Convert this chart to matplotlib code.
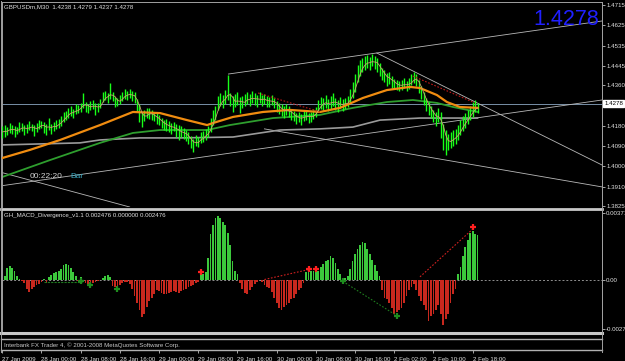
import numpy as np
import pandas as pd
import matplotlib
matplotlib.use("Agg")
import matplotlib.pyplot as plt
from matplotlib.lines import Line2D

# ---- data (GBPUSDm M30, one value per bar) ----
high = [1.4179,1.4183,1.4175,1.4192,1.4183,1.4179,1.4175,1.4197,1.4192,1.4183,
        1.4188,1.4201,1.4188,1.4183,1.4192,1.4205,1.4201,1.4197,1.4188,1.4214,
        1.4188,1.4197,1.4205,1.4210,1.4223,1.4241,1.4245,1.4259,1.4267,1.4254,
        1.4276,1.4272,1.4281,1.4325,1.4285,1.4276,1.4290,1.4294,1.4281,1.4281,
        1.4298,1.4329,1.4334,1.4325,1.4369,1.4329,1.4307,1.4303,1.4316,1.4329,
        1.4343,1.4334,1.4343,1.4334,1.4329,1.4298,1.4276,1.4241,1.4250,1.4259,
        1.4259,1.4250,1.4241,1.4236,1.4228,1.4214,1.4205,1.4210,1.4201,1.4192,
        1.4197,1.4188,1.4183,1.4179,1.4170,1.4161,1.4152,1.4135,1.4121,1.4139,
        1.4130,1.4152,1.4157,1.4166,1.4179,1.4214,1.4250,1.4267,1.4312,1.4325,
        1.4316,1.4338,1.4405,1.4325,1.4312,1.4321,1.4329,1.4307,1.4312,1.4321,
        1.4329,1.4321,1.4334,1.4325,1.4316,1.4329,1.4316,1.4321,1.4312,1.4307,
        1.4316,1.4303,1.4290,1.4281,1.4276,1.4267,1.4276,1.4267,1.4254,1.4245,
        1.4236,1.4241,1.4232,1.4245,1.4250,1.4236,1.4241,1.4254,1.4263,1.4294,
        1.4307,1.4303,1.4316,1.4298,1.4312,1.4325,1.4303,1.4294,1.4307,1.4298,
        1.4303,1.4312,1.4343,1.4374,1.4409,1.4449,1.4471,1.4480,1.4489,1.4493,
        1.4484,1.4498,1.4489,1.4480,1.4458,1.4436,1.4427,1.4414,1.4418,1.4400,
        1.4387,1.4383,1.4378,1.4383,1.4391,1.4378,1.4391,1.4409,1.4418,1.4409,
        1.4383,1.4356,1.4329,1.4303,1.4285,1.4267,1.4250,1.4241,1.4259,1.4241,
        1.4188,1.4161,1.4143,1.4152,1.4161,1.4166,1.4183,1.4205,1.4223,1.4236,
        1.4250,1.4267,1.4285,1.4294,1.4279]
low = [1.4126,1.4131,1.4139,1.4148,1.4143,1.4130,1.4143,1.4152,1.4157,1.4139,
       1.4148,1.4161,1.4157,1.4135,1.4152,1.4166,1.4170,1.4148,1.4139,1.4161,
       1.4143,1.4157,1.4166,1.4170,1.4179,1.4197,1.4205,1.4214,1.4223,1.4214,
       1.4232,1.4236,1.4241,1.4259,1.4241,1.4236,1.4250,1.4254,1.4228,1.4241,
       1.4259,1.4285,1.4294,1.4281,1.4298,1.4290,1.4263,1.4267,1.4276,1.4290,
       1.4298,1.4294,1.4303,1.4290,1.4281,1.4241,1.4197,1.4174,1.4201,1.4214,
       1.4210,1.4205,1.4201,1.4188,1.4183,1.4170,1.4161,1.4157,1.4152,1.4143,
       1.4157,1.4130,1.4117,1.4130,1.4121,1.4112,1.4099,1.4081,1.4064,1.4090,
       1.4086,1.4104,1.4108,1.4117,1.4130,1.4152,1.4183,1.4205,1.4250,1.4267,
       1.4259,1.4276,1.4294,1.4267,1.4241,1.4263,1.4272,1.4236,1.4259,1.4267,
       1.4276,1.4267,1.4281,1.4272,1.4263,1.4281,1.4267,1.4276,1.4263,1.4263,
       1.4272,1.4259,1.4241,1.4232,1.4223,1.4214,1.4228,1.4219,1.4205,1.4201,
       1.4188,1.4197,1.4183,1.4201,1.4205,1.4192,1.4197,1.4210,1.4219,1.4245,
       1.4254,1.4250,1.4259,1.4245,1.4254,1.4267,1.4250,1.4241,1.4259,1.4245,
       1.4254,1.4263,1.4281,1.4303,1.4329,1.4374,1.4400,1.4418,1.4427,1.4436,
       1.4427,1.4445,1.4431,1.4418,1.4400,1.4383,1.4374,1.4356,1.4365,1.4347,
       1.4343,1.4338,1.4334,1.4338,1.4347,1.4334,1.4343,1.4360,1.4369,1.4356,
       1.4325,1.4298,1.4272,1.4245,1.4228,1.4214,1.4197,1.4179,1.4197,1.4126,
       1.4073,1.4051,1.4073,1.4081,1.4090,1.4099,1.4117,1.4139,1.4157,1.4170,
       1.4188,1.4205,1.4219,1.4241,1.4237]
macd = [-0.0001,0.00018,0.00064,0.00076,0.00064,0.00045,0.00018,0.00005,-0.0001,-0.0002,
        -0.0005,-0.00067,-0.00055,-0.0004,-0.0003,-0.00025,-0.00012,0.00004,-0.00018,0.00015,
        0.00025,0.00036,0.0004,0.00045,0.0006,0.0008,0.00085,0.00082,0.00065,0.0004,
        0.00018,-0.0001,0.00015,-0.00008,-0.0002,-0.00025,-0.00022,-0.00018,-0.00015,-0.0001,
        -0.00005,0.0001,0.00022,0.00027,0.00015,-0.00036,-0.00042,-0.00045,-0.0003,-0.0002,
        -0.00015,-0.00014,-0.00027,-0.0005,-0.0009,-0.0013,-0.0017,-0.0021,-0.0019,-0.0015,
        -0.0012,-0.001,-0.00082,-0.0006,-0.00062,-0.00073,-0.0008,-0.00082,-0.00075,-0.0007,
        -0.00064,-0.0007,-0.00073,-0.00066,-0.00058,-0.0005,-0.0004,-0.00036,-0.0003,-0.0002,
        -0.00012,0.00025,0.0003,0.0004,0.0012,0.0025,0.003,0.0034,0.0035,0.0034,
        0.0032,0.003,0.0026,0.0019,0.001,0.0005,0.0003,-0.0002,-0.0005,-0.00075,
        -0.00078,-0.0006,-0.0004,-0.00027,-0.00013,-0.00005,-0.00015,-0.0003,-0.0004,-0.00045,
        -0.0007,-0.001,-0.0013,-0.0016,-0.0017,-0.0015,-0.0014,-0.0013,-0.0011,-0.001,
        -0.0008,-0.0006,-0.00045,-0.0002,0.0004,0.00045,0.00045,0.00045,0.0004,0.00045,
        0.0007,0.00085,0.001,0.0011,0.0013,0.0012,0.0009,0.0006,0.0003,-0.00003,
        0.0001,0.0002,0.0006,0.001,0.0014,0.0017,0.0019,0.0021,0.002,0.0017,
        0.0014,0.0011,0.0008,0.0005,0.0002,-0.0006,-0.001,-0.0011,-0.0013,-0.0016,
        -0.0019,-0.0018,-0.0017,-0.0016,-0.0013,-0.0009,-0.0006,-0.0004,-0.00027,-0.0006,
        -0.0009,-0.0012,-0.0014,-0.0017,-0.0023,-0.002,-0.0019,-0.0017,-0.0014,-0.0019,
        -0.0025,-0.0022,-0.0019,-0.0013,-0.0008,-0.0005,0.0003,0.0007,0.0013,0.0018,
        0.0022,0.0026,0.0027,0.0025,0.002476]

# moving averages drawn on the chart (bar, price)
ma_orange_x = [0, 11.3, 23.6, 39.9, 53.3, 64.4, 75.4, 83.6, 86, 94.2, 106.4, 117.4,
               129.7, 137.8, 147.2, 157, 166.4, 170.5, 177.4, 181.5, 186.8, 194]
ma_orange_y = [1.4037, 1.4073, 1.4117, 1.4183, 1.4241, 1.4236, 1.4205, 1.4183, 1.4192,
               1.4219, 1.4241, 1.4250, 1.4241, 1.4259, 1.4303, 1.4338, 1.4352, 1.4347,
               1.4316, 1.4285, 1.4263, 1.4259]
ma_green_x = [0, 19.5, 39.9, 53.3, 64.4, 83.6, 92.9, 110.5, 129.7, 143.1, 157, 167.6,
              177.4, 184, 194]
ma_green_y = [1.3953, 1.4028, 1.4104, 1.4148, 1.4161, 1.4161, 1.4183, 1.4214, 1.4228,
              1.4259, 1.4285, 1.4294, 1.4281, 1.4263, 1.4241]
ma_gray_x = [0, 31.7, 39.9, 56.2, 72.5, 94.2, 113.3, 129.7, 143.1, 154.2, 170.5, 194]
ma_gray_y = [1.4095, 1.4104, 1.4117, 1.4126, 1.4126, 1.4130, 1.4161, 1.4166, 1.4174,
             1.4205, 1.4214, 1.4214]

# trend lines ((x0, y0), (x1, y1)) in bar / price
trend_lines = [((92.3, 1.4409), (244.8, 1.4644)),
               ((-1.0, 1.3913), (244.8, 1.4294)),
               ((152.9, 1.4502), (244.8, 1.4006)),
               ((107.0, 1.4166), (244.8, 1.3909)),
               ((-1.0, 1.3975), (52.0, 1.3820))]
price_div = [((104.4, 1.4325), (129.7, 1.4241)), ((167.6, 1.4400), (192.9, 1.4281))]

bid = 1.4278
price_ticks = [1.4715, 1.4625, 1.4535, 1.4445, 1.4360, 1.4180, 1.4090, 1.4000, 1.3910, 1.3825]
time_pos = [0, 16, 32, 48, 64, 80, 96, 112, 128, 144, 160, 176, 192]
time_labels = ["27 Jan 2009", "28 Jan 00:00", "28 Jan 08:00", "28 Jan 16:00",
               "29 Jan 00:00", "29 Jan 08:00", "29 Jan 16:00", "30 Jan 00:00",
               "30 Jan 08:00", "30 Jan 16:00", "2 Feb 02:00", "2 Feb 10:00", "2 Feb 18:00"]

W, H = 625, 361
plt.rcParams['font.family'] = ['Liberation Sans', 'DejaVu Sans']
fig = plt.figure(figsize=(W / 100, H / 100), dpi=100, facecolor='black')


def box(x0, y0, x1, y1):
    # pixel box (top-left origin) -> figure fraction rect
    return [x0 / W, 1 - y1 / H, (x1 - x0) / W, (y1 - y0) / H]


XL = (-0.12, 244.8)
LBL = dict(color='#e0e0e0', fontsize=4.4)

ax1 = fig.add_axes(box(2, 2, 602, 207), facecolor='black')
ax2 = fig.add_axes(box(2, 210, 602, 331), facecolor='black')
ax3 = fig.add_axes(box(2, 349, 602, 350), facecolor='black')

x = np.arange(len(high))

# price panel
ax1.axhline(bid, color='#7890a8', lw=0.7, zorder=1)
for (x0, y0), (x1, y1) in trend_lines:
    ax1.plot([x0, x1], [y0, y1], color='#b8b8b8', lw=0.6, zorder=1)
ax1.plot(ma_gray_x, ma_gray_y, color='#9a9a9a', lw=1.2, zorder=2)
ax1.plot(ma_green_x, ma_green_y, color='#2e9e2e', lw=1.3, zorder=2)
ax1.plot(ma_orange_x, ma_orange_y, color='#f08c10', lw=1.6, zorder=4)
ax1.vlines(x, low, high, color='#18ff18', lw=1.0, zorder=3)
mid = pd.Series((np.array(high) + np.array(low)) / 2).rolling(3, min_periods=1).mean()
ax1.plot(x, mid, color='#c8a070', lw=0.6, zorder=5)
for (x0, y0), (x1, y1) in price_div:
    ax1.plot([x0, x1], [y0, y1], color='#c01818', lw=0.8, ls=(0, (1.5, 1.5)), zorder=5)

ax1.set_xlim(*XL)
ax1.set_ylim(1.38200, 1.47281)
ax1.yaxis.tick_right()
ax1.set_yticks(price_ticks)
ax1.set_yticklabels(['%.4f' % v for v in price_ticks])
ax1.tick_params(axis='y', colors='#c0c0c0', length=2, width=0.6, pad=1, labelsize=4.4,
                labelcolor='#e0e0e0')
ax1.set_xticks([])
ax1.text(1.004, bid, '%.4f' % bid, transform=ax1.get_yaxis_transform(), fontsize=4.4,
         color='black', va='center', ha='left',
         bbox=dict(boxstyle='square,pad=0.15', fc='white', ec='white'))
for s in ax1.spines.values():
    s.set_color('#a0a0a0')
    s.set_linewidth(0.7)
ax1.spines['bottom'].set_visible(False)

# indicator panel
ax2.axhline(0, color='#909090', lw=0.7, ls=(0, (2, 2)), zorder=1)
cols = ['#3cc83c' if v >= 0 else '#c8281e' for v in macd]
ax2.bar(x, macd, width=0.72, color=cols, linewidth=0, zorder=2)
red_div = [((107, 0.0), (125, 0.00055)), ((170.5, 0.00015), (192.1, 0.0028))]
for (x0, y0), (x1, y1) in red_div:
    ax2.plot([x0, x1], [y0, y1], color='#d02020', lw=0.8, ls=(0, (1.5, 1.5)), zorder=3)
ax2.plot([139, 161], [-0.0001, -0.002], color='#1e7a1e', lw=0.8, ls=(0, (1.5, 1.5)), zorder=3)
ax2.plot([17, 32.5], [-0.00015, -0.00015], color='#1e7a1e', lw=0.8, ls=(0, (2, 1)), zorder=3)
ax2.plot([81, 125, 128, 192], [0.0004, 0.0006, 0.0006, 0.0029], ls='none', marker='+',
         ms=4.5, mew=1.6, color='#ff2020', zorder=4)
ax2.plot([32, 36, 47, 139, 161], [-0.0001, -0.0003, -0.0005, -0.0001, -0.002], ls='none',
         marker='+', ms=4.5, mew=1.6, color='#1e8c1e', zorder=4)
ax2.set_xlim(*XL)
ax2.set_ylim(-0.00285, 0.00385)
ax2.yaxis.tick_right()
ax2.set_yticks([0.00371, 0.0, -0.00275])
ax2.set_yticklabels(['0.00371', '0.00', '-0.00275'])
ax2.tick_params(axis='y', colors='#c0c0c0', length=2, width=0.6, pad=1, labelsize=4.4,
                labelcolor='#e0e0e0')
ax2.set_xticks([])
for s in ax2.spines.values():
    s.set_color('#a0a0a0')
    s.set_linewidth(0.7)
ax2.spines['top'].set_visible(False)
ax2.spines['bottom'].set_visible(False)

# time scale
ax3.set_xlim(*XL)
ax3.set_ylim(0, 1)
ax3.set_yticks([])
ax3.set_xticks(time_pos)
ax3.set_xticklabels(time_labels)
ax3.tick_params(axis='x', colors='#c0c0c0', length=2.5, width=0.6, pad=2.5, labelsize=4.4,
                labelcolor='#e0e0e0')
for t in ax3.get_xticklabels():
    t.set_ha('left')
for s in ax3.spines.values():
    s.set_visible(False)

# separators between the panels and empty sub-windows
for yy, lw, c in [(208.5, 2.0, '#c8c8c8'), (333, 2.2, '#c8c8c8'), (339, 1.0, '#b0b0b0'),
                  (349.5, 1.0, '#b0b0b0')]:
    fig.add_artist(Line2D([1 / W, 602 / W], [1 - yy / H] * 2, color=c, lw=lw))
fig.add_artist(Line2D([602 / W] * 2, [1 - 2 / H, 1 - 352 / H], color='#a0a0a0', lw=0.7))
fig.add_artist(Line2D([1 / W] * 2, [1 - 1 / H, 1 - 352 / H], color='#a0a0a0', lw=0.7))

# texts
fig.text(4 / W, 1 - 7 / H, 'GBPUSDm,M30  1.4238 1.4279 1.4237 1.4278', va='center',
         **LBL)
fig.text(4 / W, 1 - 215 / H, 'GH_MACD_Divergence_v1.1 0.002476 0.000000 0.002476',
         va='center', **LBL)
fig.text(4 / W, 1 - 345.5 / H,
         'Interbank FX Trader 4, \u00a9 2001-2008 MetaQuotes Software Corp.', va='center',
         color='#c8c8c8', fontsize=4.4)
fig.text(30 / W, 1 - 176 / H, '00:22:20', va='center', color='#d0d0d0', fontsize=6)
fig.text(70 / W, 1 - 176 / H, 'Bar', va='center', color='#3aa8c0', fontsize=6)
fig.text(599 / W, 1 - 25 / H, '%.4f' % bid, ha='right', va='baseline', color='#2020ff',
         fontsize=15.5)

fig.savefig('out.png', dpi=100, facecolor='black')
